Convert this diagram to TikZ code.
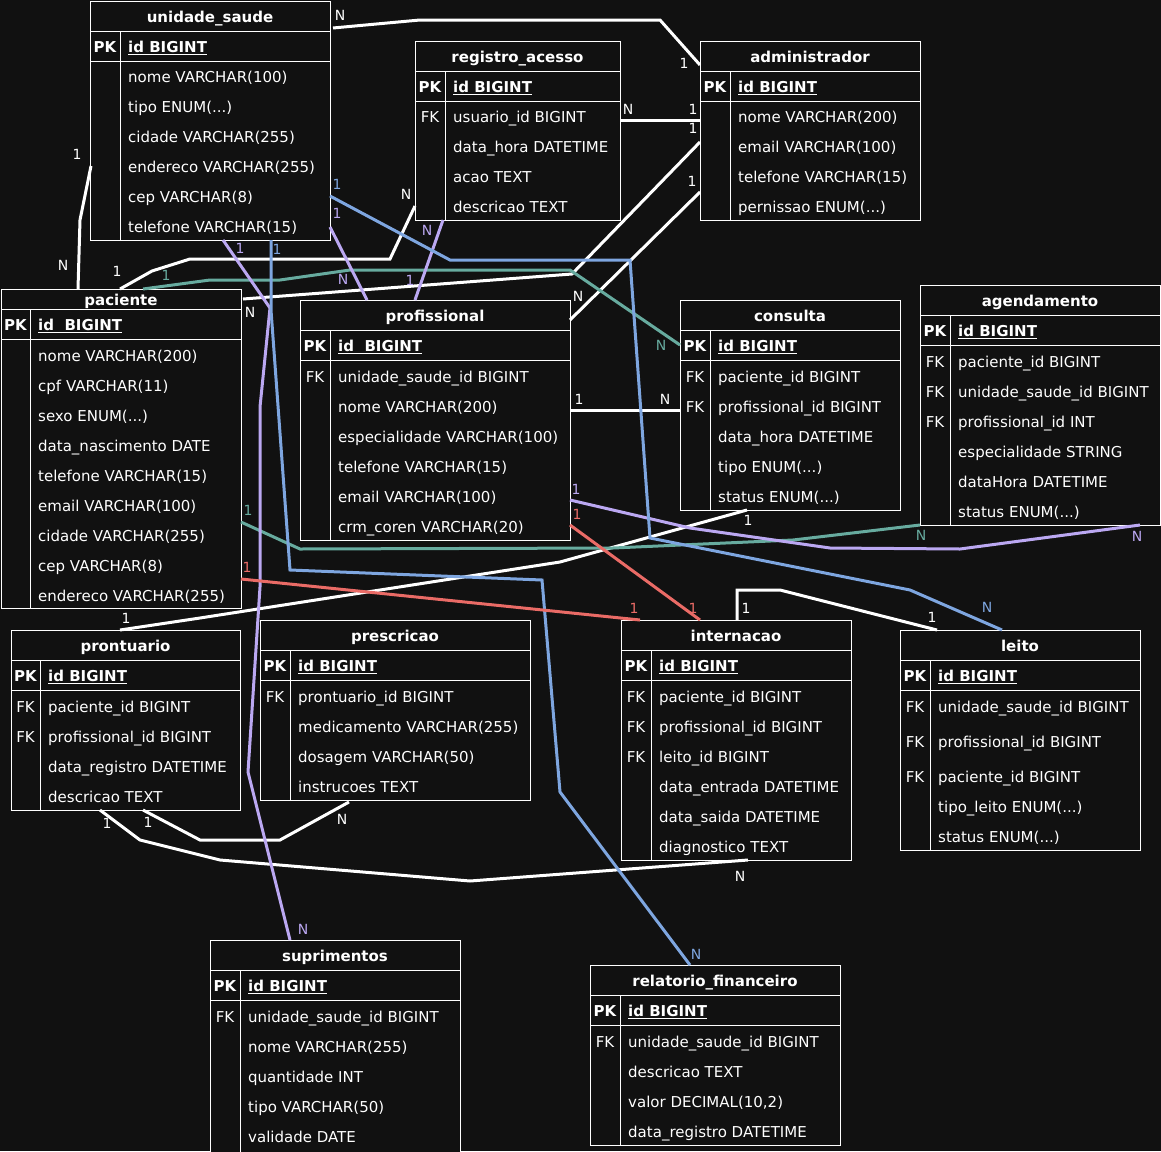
\documentclass[tikz,border=0pt]{standalone}
\usepackage{fontspec}
\setmainfont{DejaVu Sans}
\usetikzlibrary{calc}
\definecolor{bg}{HTML}{111111}
\definecolor{cteal}{HTML}{67AB9F}
\definecolor{cpurp}{HTML}{BBA8F2}
\definecolor{cblue}{HTML}{7EA6E0}
\definecolor{cred}{HTML}{EA6B66}
\newcommand{\tdots}{.{}.{}.}
\tikzset{
  tblbox/.style={draw=white, line width=1pt, fill=bg, inner sep=0pt, outer sep=0pt, anchor=north west},
  tline/.style={draw=white, line width=1pt},
  ttitle/.style={text=white, font=\fontsize{15}{18}\selectfont\bfseries, inner sep=0pt, text height=14pt, text depth=1pt},
  tkey/.style={text=white, font=\fontsize{15}{18}\selectfont, inner sep=0pt, text height=14pt, text depth=1pt},
  tkeyb/.style={tkey, font=\fontsize{15}{18}\selectfont\bfseries},
  tattr/.style={tkey, anchor=west},
  tattrb/.style={tkeyb, anchor=west},
  conn/.style={line width=3pt},
  lbl/.style={font=\fontsize{14}{16}\selectfont, inner sep=0pt}
}
% name x0 y0 x1 y1 xdiv yhead ypk title
\newcommand{\ertab}[9]{%
  \node[tblbox, minimum width={#4-#2}, minimum height={#5-#3}] (#1) at (#2,#3) {};
  \draw[tline] (#2,#7) -- (#4,#7);
  \draw[tline] (#2,#8) -- (#4,#8);
  \draw[tline] (#6,#7) -- (#6,#5);
  \node[ttitle] (#1-title) at ({(#2+#4)/2},{(#3+#7)/2}) {#9};
}
% name x0 xdiv y text
\newcommand{\erpk}[5]{%
  \node[tkeyb] (#1-pk) at ({(#2+#3)/2},#4) {PK};
  \node[tattrb] (#1-pkt) at ({#3+8},#4) {\underline{#5}};
}
% name x0 xdiv list
\newcommand{\errows}[4]{%
  \foreach \k/\t/\yy [count=\i] in {#4} {
    \node[tkey] (#1-k\i) at ({(#2+#3)/2},\yy) {\k};
    \node[tattr] (#1-r\i) at ({#3+8},\yy) {\t};
  }
}
\begin{document}
\begin{tikzpicture}[x=1pt,y=-1pt]
\useasboundingbox (0,0) rectangle (1161,1151);
\fill[bg] (0,0) rectangle (1161,1151);

% unidade_saude
\ertab{us}{90}{1}{330}{240}{120}{31}{61}{unidade\_saude}
\erpk{us}{90}{120}{46}{id BIGINT}
\errows{us}{90}{120}{{}/nome VARCHAR(100)/76, {}/tipo ENUM(\tdots)/106, {}/cidade VARCHAR(255)/136, {}/endereco VARCHAR(255)/166, {}/cep VARCHAR(8)/196, {}/telefone VARCHAR(15)/226}

% registro_acesso
\ertab{ra}{415}{41}{620}{220}{445}{71}{101}{registro\_acesso}
\erpk{ra}{415}{445}{86}{id BIGINT}
\errows{ra}{415}{445}{FK/usuario\_id BIGINT/116, {}/data\_hora DATETIME/146, {}/acao TEXT/176, {}/descricao TEXT/206}

% administrador
\ertab{adm}{700}{41}{920}{220}{730}{71}{101}{administrador}
\erpk{adm}{700}{730}{86}{id BIGINT}
\errows{adm}{700}{730}{{}/nome VARCHAR(200)/116, {}/email VARCHAR(100)/146, {}/telefone VARCHAR(15)/176, {}/pernissao ENUM(\tdots)/206}

% paciente
\ertab{pac}{1}{289}{241}{608}{30}{309}{339}{paciente}
\erpk{pac}{1}{30}{324}{id\ \ BIGINT}
\errows{pac}{1}{30}{{}/nome VARCHAR(200)/355, {}/cpf VARCHAR(11)/385, {}/sexo ENUM(\tdots)/415, {}/data\_nascimento DATE/445, {}/telefone VARCHAR(15)/475, {}/email VARCHAR(100)/505, {}/cidade VARCHAR(255)/535, {}/cep VARCHAR(8)/565, {}/endereco VARCHAR(255)/595}

% profissional
\ertab{prof}{300}{300}{570}{540}{330}{330}{360}{profissional}
\erpk{prof}{300}{330}{345}{id\ \ BIGINT}
\errows{prof}{300}{330}{FK/unidade\_saude\_id BIGINT/376, {}/nome VARCHAR(200)/406, {}/especialidade VARCHAR(100)/436, {}/telefone VARCHAR(15)/466, {}/email VARCHAR(100)/496, {}/crm\_coren VARCHAR(20)/526}

% consulta
\ertab{cons}{680}{300}{900}{510}{710}{330}{360}{consulta}
\erpk{cons}{680}{710}{345}{id BIGINT}
\errows{cons}{680}{710}{FK/paciente\_id BIGINT/376, FK/profissional\_id BIGINT/406, {}/data\_hora DATETIME/436, {}/tipo ENUM(\tdots)/466, {}/status ENUM(\tdots)/496}

% agendamento
\ertab{ag}{920}{285}{1160}{525}{950}{315}{345}{agendamento}
\erpk{ag}{920}{950}{330}{id BIGINT}
\errows{ag}{920}{950}{FK/paciente\_id BIGINT/361, FK/unidade\_saude\_id BIGINT/391, FK/profissional\_id INT/421, {}/especialidade STRING/451, {}/dataHora DATETIME/481, {}/status ENUM(\tdots)/511}

% prontuario
\ertab{pront}{11}{630}{240}{810}{40}{660}{690}{prontuario}
\erpk{pront}{11}{40}{675}{id BIGINT}
\errows{pront}{11}{40}{FK/paciente\_id BIGINT/706, FK/profissional\_id BIGINT/736, {}/data\_registro DATETIME/766, {}/descricao TEXT/796}

% prescricao
\ertab{presc}{260}{620}{530}{800}{290}{650}{680}{prescricao}
\erpk{presc}{260}{290}{665}{id BIGINT}
\errows{presc}{260}{290}{FK/prontuario\_id BIGINT/696, {}/medicamento VARCHAR(255)/726, {}/dosagem VARCHAR(50)/756, {}/instrucoes TEXT/786}

% internacao
\ertab{intern}{621}{620}{851}{860}{651}{650}{680}{internacao}
\erpk{intern}{621}{651}{665}{id BIGINT}
\errows{intern}{621}{651}{FK/paciente\_id BIGINT/696, FK/profissional\_id BIGINT/726, FK/leito\_id BIGINT/756, {}/data\_entrada DATETIME/786, {}/data\_saida DATETIME/816, {}/diagnostico TEXT/846}

% leito
\ertab{leito}{900}{630}{1140}{850}{930}{660}{690}{leito}
\erpk{leito}{900}{930}{675}{id BIGINT}
\errows{leito}{900}{930}{FK/unidade\_saude\_id BIGINT/706, FK/profissional\_id BIGINT/741, FK/paciente\_id BIGINT/776, {}/tipo\_leito ENUM(\tdots)/806, {}/status ENUM(\tdots)/836}

% suprimentos
\ertab{sup}{210}{940}{460}{1165}{240}{970}{1000}{suprimentos}
\erpk{sup}{210}{240}{985}{id BIGINT}
\errows{sup}{210}{240}{FK/unidade\_saude\_id BIGINT/1016, {}/nome VARCHAR(255)/1046, {}/quantidade INT/1076, {}/tipo VARCHAR(50)/1106, {}/validade DATE/1136}

% relatorio_financeiro
\ertab{rf}{590}{965}{840}{1145}{620}{995}{1025}{relatorio\_financeiro}
\erpk{rf}{590}{620}{1010}{id BIGINT}
\errows{rf}{590}{620}{FK/unidade\_saude\_id BIGINT/1041, {}/descricao TEXT/1071, {}/{valor DECIMAL(10,2)}/1101, {}/data\_registro DATETIME/1131}

% ---------- connectors ----------
% white
\draw[conn, white] ($(us.north east)+(3,27)$) -- (420,20) -- (660,20) -- ($(adm.north west)+(0,24)$);
\draw[conn, white] ($(ra.north east)+(0,79)$) -- ($(adm.north west)+(0,79)$);
\draw[conn, white] ($(pac.north east)+(2,10)$) -- (572,274) -- ($(adm.north west)+(0,101)$);
\draw[conn, white] ($(prof.north east)+(0,20)$) -- ($(adm.north west)+(0,151)$);
\draw[conn, white] ($(us.north west)+(1,165)$) -- (80,220) -- ($(pac.north west)+(77,0)$);
\draw[conn, white] ($(pac.north west)+(119,0)$) -- (152,271) -- (190,259) -- (390,259) -- ($(ra.south west)+(0,-14)$);
\draw[conn, white] ($(prof.north east)+(0,110)$) -- ($(cons.north west)+(0,110)$);
\draw[conn, white] ($(cons.south west)+(67,0)$) -- (560,562) -- (200,618) -- ($(pront.north west)+(109,0)$);
\draw[conn, white] ($(intern.north west)+(116,0)$) -- (737,590) -- (780,590) -- ($(leito.north west)+(37,0)$);
\draw[conn, white] ($(pront.south west)+(132,0)$) -- (200,840) -- (280,840) -- ($(presc.south west)+(89,2)$);
\draw[conn, white] ($(pront.south west)+(89,0)$) -- (140,840) -- (220,860) -- (470,881) -- ($(intern.south west)+(127,0)$);
% teal
\draw[conn, cteal] ($(pac.north west)+(142,0)$) -- (210,280) -- (280,280) -- (350,270) -- (570,270) -- ($(cons.north west)+(0,45)$);
\draw[conn, cteal] ($(pac.north east)+(0,233)$) -- (300,549) -- (613,548) -- (793,540) -- (ag.south west);
% purple
\draw[conn, cpurp] ($(us.south west)+(133,0)$) -- (270,308) -- (260,407) -- (260,587) -- (248,772) -- ($(sup.north west)+(80,0)$);
\draw[conn, cpurp] ($(us.north east)+(0,226)$) -- ($(prof.north west)+(67,0)$);
\draw[conn, cpurp] ($(ra.south west)+(28,0)$) -- ($(prof.north west)+(115,0)$);
\draw[conn, cpurp] ($(prof.north east)+(0,200)$) -- (690,528) -- (830,548) -- (960,549) -- ($(ag.south east)+(-20,0)$);
% blue
\draw[conn, cblue] ($(us.north east)+(0,195)$) -- (450,260) -- (630,260) -- (650,538) -- (910,590) -- ($(leito.north west)+(102,0)$);
\draw[conn, cblue] ($(us.south west)+(181,0)$) -- (271,310) -- (290,570) -- (542,580) -- (560,792) -- ($(rf.north west)+(100,0)$);
% red
\draw[conn, cred] ($(pac.north east)+(0,290)$) -- ($(intern.north west)+(19,0)$);
\draw[conn, cred] ($(prof.north east)+(0,225)$) -- ($(intern.north west)+(79,0)$);

% ---------- labels ----------
\foreach \t/\x/\y [count=\i] in {N/340/15, 1/684/63, N/628/109, 1/693/109, 1/693/128, N/250/312, 1/692/181, N/578/296, 1/77/154, N/63/265, 1/117/271, N/406/194, 1/579/399, N/665/399, 1/126/618, 1/748/520, 1/746/608, 1/932/617, 1/148/822, N/342/819, 1/107/823, N/740/876}
  \node[lbl, text=white] (lw\i) at (\x,\y) {\t};
\foreach \t/\x/\y [count=\i] in {1/166/275, N/661/345, 1/248/510, N/921/535}
  \node[lbl, text=cteal] (lt\i) at (\x,\y) {\t};
\foreach \t/\x/\y [count=\i] in {1/240/248, N/303/929, 1/337/213, N/343/279, N/427/230, 1/410/280, 1/576/489, N/1137/536}
  \node[lbl, text=cpurp] (lp\i) at (\x,\y) {\t};
\foreach \t/\x/\y [count=\i] in {1/337/184, N/987/607, 1/277/249, N/696/954}
  \node[lbl, text=cblue] (lb\i) at (\x,\y) {\t};
\foreach \t/\x/\y [count=\i] in {1/247/567, 1/634/608, 1/577/514, 1/693/608}
  \node[lbl, text=cred] (lr\i) at (\x,\y) {\t};
\end{tikzpicture}
\end{document}
